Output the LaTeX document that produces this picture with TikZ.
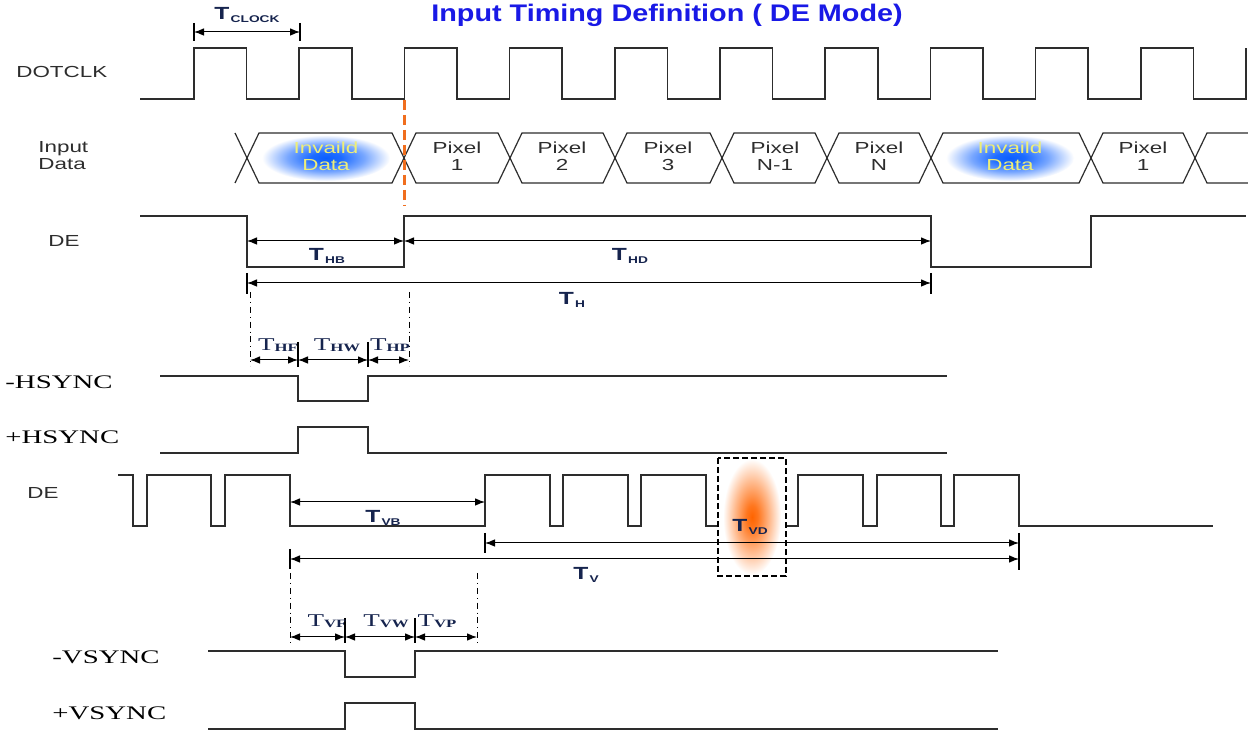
\documentclass[tikz,border=0pt]{standalone}
\usepackage{fontspec}
\setmainfont{Liberation Sans}[FakeStretch=1.4]
\newfontfamily\serifwide{Liberation Serif}[FakeStretch=1.5]
\newfontfamily\titlefont{Liberation Sans}[FakeStretch=1.2]
\usetikzlibrary{arrows.meta,calc}
\definecolor{ttitle}{RGB}{25,25,230}
\definecolor{tnavy}{RGB}{22,36,78}
\definecolor{tline}{RGB}{45,45,45}
\definecolor{tmark}{RGB}{240,110,30}
\definecolor{tglowb}{RGB}{10,95,255}
\definecolor{tglowo}{RGB}{255,100,0}
\definecolor{tinval}{RGB}{238,238,120}
\pgfdeclareradialshading{glowblue}{\pgfpoint{0bp}{0bp}}{color(0bp)=(tglowb);
  color(6bp)=(tglowb!92!white); color(15bp)=(tglowb!55!white);
  color(25bp)=(white); color(50bp)=(white)}
\pgfdeclareradialshading{gloworange}{\pgfpoint{0bp}{0bp}}{color(0bp)=(tglowo);
  color(5bp)=(tglowo!88!white); color(15bp)=(tglowo!45!white);
  color(25bp)=(white); color(50bp)=(white)}
\newcommand{\tsub}[1]{\fontsize{8.8}{8.8}\selectfont T\kern0.6pt\raisebox{-1.3pt}{\fontsize{4.9}{4.9}\selectfont #1}}
\newcommand{\tsubrm}[1]{{\serifwide\fontsize{9}{9}\selectfont T\raisebox{-0.6pt}{\bfseries\fontsize{5.6}{5.6}\selectfont #1}}}
\tikzset{
  sig/.style={draw=tline,line width=0.8pt},
  hexcell/.style={draw=tline,line width=0.6pt},
  dimarr/.style={{Latex[length=5pt,width=3.8pt]}-{Latex[length=5pt,width=3.8pt]},
    line width=0.5pt,black},
  dimbar/.style={line width=0.7pt,black},
  guide/.style={dash dot,line width=0.5pt,black},
  lbl/.style={font=\fontsize{8}{8.5}\selectfont,inner sep=0pt,anchor=west,text=tline},
  pixlbl/.style={font=\fontsize{8}{8.5}\selectfont,align=center,inner sep=0pt,text=tline},
  invlbl/.style={pixlbl,text=tinval},
  synclbl/.style={font=\serifwide\fontsize{9.6}{9.6}\selectfont,anchor=west,inner sep=0pt},
  tlab/.style={font=\bfseries,text=tnavy,inner sep=0pt},
  tlabrm/.style={text=tnavy,inner sep=0pt},
}
\begin{document}
\begin{tikzpicture}[x=0.5pt,y=-0.5pt]
  \useasboundingbox (0,0) rectangle (1248,731);
  \fill[white] (0,0) rectangle (1248,731);

  % title and clock period
  \node[font=\titlefont\bfseries\fontsize{12}{12}\selectfont,text=ttitle] (title)
    at (667,15) {Input Timing Definition ( DE Mode)};
  \node[tlab] (tclk) at (247,15) {\tsub{CLOCK}};
  \coordinate (clkL) at (194,32);
  \coordinate (clkR) at (300,32);
  \draw[dimbar] (194,23) -- (194,41) (300,23) -- (300,41);
  \draw[dimarr] (clkL) -- (clkR);

  % DOTCLK
  \node[lbl] (lclk) at (16,72) {DOTCLK};
  \draw[sig] (140,99) \foreach \k in {0,...,9} {
    -- ({194+105.2*\k},99) -- ({194+105.2*\k},48)
    -- ({246.6+105.2*\k},48) -- ({246.6+105.2*\k},99) }
    -- (1246,99) -- (1246,48);

  % input data
  \node[lbl,align=left] (ldata) at (38,156) {Input\\Data};
  \shade[shading=glowblue] (326,158) ellipse [x radius=64,y radius=23];
  \shade[shading=glowblue] (1010,158) ellipse [x radius=64,y radius=23];
  \draw[hexcell] (235,133) -- (247,158) -- (235,183);
  \foreach \a/\b in {247/404,404/510,510/615,615/722,722/827,827/931,931/1091,1091/1195}
    \draw[hexcell] (\a,158) -- ({\a+12},133) -- ({\b-12},133) -- (\b,158)
      -- ({\b-12},183) -- ({\a+12},183) -- cycle;
  \draw[hexcell] (1248,133) -- (1207,133) -- (1195,158) -- (1207,183) -- (1248,183);
  \node[invlbl] (inv1) at (326,156) {Invaild\\Data};
  \node[invlbl] (inv2) at (1010,156) {Invaild\\Data};
  \foreach \n/\x/\t in {pix1/457/1,pix2/562/2,pix3/668/3,pixm/775/N-1,pixn/879/N,pixr/1143/1}
    \node[pixlbl] (\n) at (\x,156) {Pixel\\\t};
  \draw[tmark,line width=1.5pt,dash pattern=on 5pt off 2.5pt] (404,100) -- (404,206);

  % DE, line timing
  \node[lbl] (lde) at (48,241) {DE};
  \draw[sig] (140,216) -- (247,216) -- (247,267) -- (404,267) -- (404,216) -- (931,216)
    -- (931,267) -- (1091,267) -- (1091,216) -- (1246,216);
  \coordinate (hbL) at (247,241);
  \coordinate (hbR) at (404,241);
  \coordinate (hdR) at (931,241);
  \coordinate (hL) at (247,283);
  \coordinate (hR) at (931,283);
  \draw[dimarr] (hbL) -- (hbR);
  \draw[dimarr] (hbR) -- (hdR);
  \draw[dimbar] (247,273) -- (247,294) (931,273) -- (931,294);
  \draw[dimarr] (hL) -- (hR);
  \node[tlab] (thb) at (327,256) {\tsub{HB}};
  \node[tlab] (thd) at (630,256) {\tsub{HD}};
  \node[tlab] (th) at (572,300) {\tsub{H}};

  % HSYNC
  \draw[guide] (250,292) -- (250,366) (409,292) -- (409,366);
  \draw[dimbar] (298,342) -- (298,367) (368,342) -- (368,367);
  \coordinate (hf) at (250,360);
  \coordinate (hw) at (298,360);
  \coordinate (hp) at (368,360);
  \coordinate (he) at (409,360);
  \draw[dimarr] (hf) -- (hw);
  \draw[dimarr] (hw) -- (hp);
  \draw[dimarr] (hp) -- (he);
  \node[tlabrm] (thf) at (278,345) {\tsubrm{HF}};
  \node[tlabrm] (thw) at (337,345) {\tsubrm{HW}};
  \node[tlabrm] (thp) at (390,345) {\tsubrm{HP}};
  \node[synclbl] (lhn) at (5,382) {-HSYNC};
  \node[synclbl] (lhp) at (5,437) {+HSYNC};
  \draw[sig] (160,376) -- (298,376) -- (298,401) -- (368,401) -- (368,376) -- (947,376);
  \draw[sig] (160,453) -- (298,453) -- (298,427) -- (368,427) -- (368,453) -- (947,453);

  % DE, frame timing
  \node[lbl] (lde2) at (27,493) {DE};
  \shade[shading=gloworange] (752,517) ellipse [x radius=29,y radius=58];
  \draw[sig] (118,475) -- (133,475) -- (133,526) -- (147,526) -- (147,475) -- (211,475)
    -- (211,526) -- (225,526) -- (225,475) -- (290,475) -- (290,526) -- (485,526)
    -- (485,475) -- (550,475) -- (550,526) -- (563,526) -- (563,475) -- (628,475)
    -- (628,526) -- (641,526) -- (641,475) -- (706,475) -- (706,526) -- (718,526);
  \draw[sig] (786,526) -- (798,526) -- (798,475) -- (863,475) -- (863,526) -- (877,526)
    -- (877,475) -- (941,475) -- (941,526) -- (954,526) -- (954,475) -- (1019,475)
    -- (1019,526) -- (1213,526);
  \coordinate (vbL) at (290,502);
  \coordinate (vbR) at (485,502);
  \coordinate (vdL) at (485,543);
  \coordinate (vdR) at (1019,543);
  \coordinate (vL) at (290,559);
  \coordinate (vR) at (1019,559);
  \draw[dimarr] (vbL) -- (vbR);
  \draw[dimbar] (485,533) -- (485,553) (1019,533) -- (1019,570) (290,549) -- (290,569);
  \draw[dimarr] (vdL) -- (vdR);
  \draw[dimarr] (vL) -- (vR);
  \draw[line width=1pt,dash pattern=on 3pt off 1.5pt] (718,458) rectangle (786,576);
  \node[tlab] (tvb) at (383,518) {\tsub{VB}};
  \node[tlab] (tvd) at (750,527) {\tsub{VD}};
  \node[tlab] (tv) at (586,575) {\tsub{V}};

  % VSYNC
  \draw[guide] (290,573) -- (290,643) (477,573) -- (477,643);
  \draw[dimbar] (345,618) -- (345,643) (415,618) -- (415,643);
  \coordinate (vf) at (290,637);
  \coordinate (vw) at (345,637);
  \coordinate (vp) at (415,637);
  \coordinate (ve) at (477,637);
  \draw[dimarr] (vf) -- (vw);
  \draw[dimarr] (vw) -- (vp);
  \draw[dimarr] (vp) -- (ve);
  \node[tlabrm] (tvf) at (327,621) {\tsubrm{VF}};
  \node[tlabrm] (tvw) at (386,621) {\tsubrm{VW}};
  \node[tlabrm] (tvp) at (437,621) {\tsubrm{VP}};
  \node[synclbl] (lvn) at (52,657) {-VSYNC};
  \node[synclbl] (lvp) at (52,713) {+VSYNC};
  \draw[sig] (208,651) -- (345,651) -- (345,677) -- (415,677) -- (415,651) -- (998,651);
  \draw[sig] (208,729) -- (345,729) -- (345,703) -- (415,703) -- (415,729) -- (998,729);
\end{tikzpicture}
\end{document}
